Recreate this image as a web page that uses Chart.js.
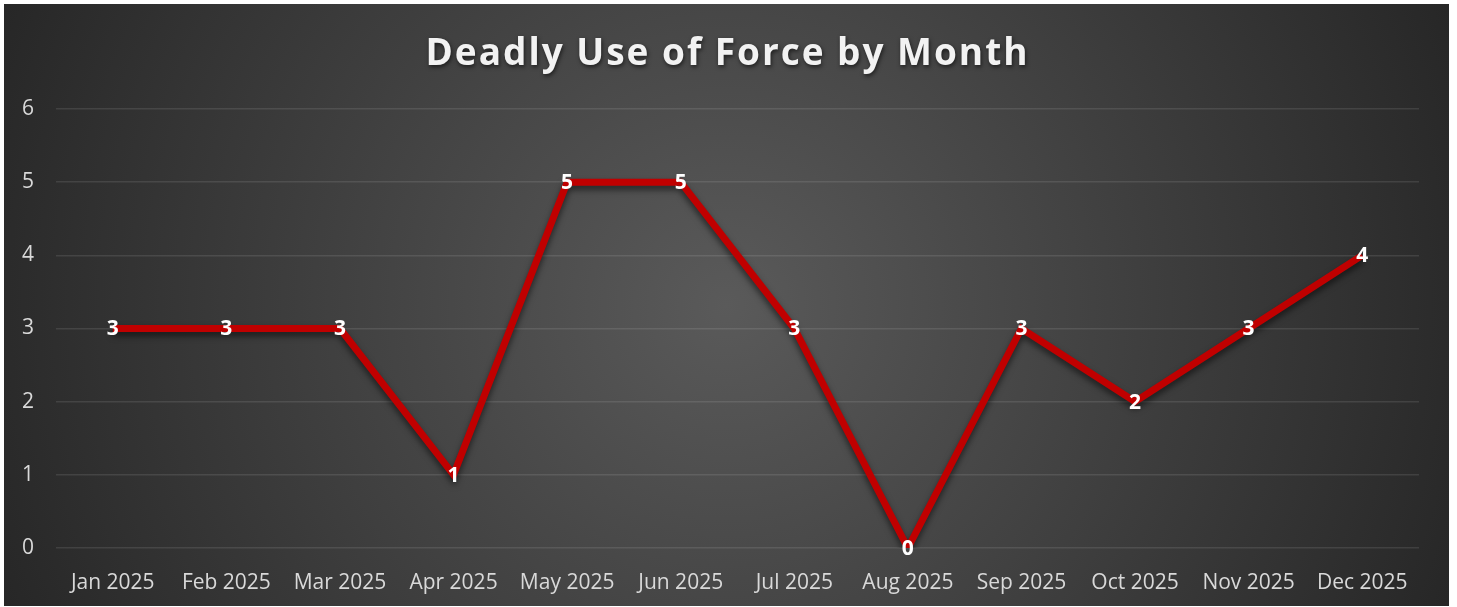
<!DOCTYPE html>
<html>
<head>
<meta charset="utf-8">
<script src="https://cdn.jsdelivr.net/npm/chart.js@4.4.1/dist/chart.umd.min.js"></script>
<style>
  html, body { margin: 0; padding: 0; background: #ffffff; }
  #wrap { position: absolute; left: 4px; top: 4px; width: 1445px; height: 602px; }
</style>
</head>
<body>
<div id="wrap"><canvas id="forceChart"></canvas></div>
<script>
// === DATA ===
const months = ["Jan 2025", "Feb 2025", "Mar 2025", "Apr 2025", "May 2025", "Jun 2025",
                "Jul 2025", "Aug 2025", "Sep 2025", "Oct 2025", "Nov 2025", "Dec 2025"];
const incidents = [3, 3, 3, 1, 5, 5, 3, 0, 3, 2, 3, 4];
const yTicks = [0, 1, 2, 3, 4, 5, 6];
const chartTitle = "Deadly Use of Force by Month";

// === BACKGROUND (radial grey) ===
const bgPlugin = {
  id: "bg",
  beforeDraw(chart) {
    const { ctx, width, height } = chart;
    const g = ctx.createRadialGradient(width / 2, height / 2, 0, width / 2, height / 2, width * 0.55);
    g.addColorStop(0, "#5a5a5a");
    g.addColorStop(1, "#262626");
    ctx.save();
    ctx.fillStyle = g;
    ctx.fillRect(0, 0, width, height);
    ctx.restore();
  },
};

// === TITLE with letter spacing + shadow ===
const titlePlugin = {
  id: "fancyTitle",
  afterDraw(chart) {
    const { ctx, width } = chart;
    ctx.save();
    ctx.font = "bold 37px 'Open Sans'";
    ctx.letterSpacing = "0px";
    const w = ctx.measureText(chartTitle).width;
    const spacing = Math.max(0, (602 - w) / (chartTitle.length - 1));
    ctx.letterSpacing = spacing + "px";
    ctx.fillStyle = "#f2f2f2";
    ctx.textAlign = "center";
    ctx.textBaseline = "middle";
    ctx.shadowColor = "rgba(0,0,0,0.6)";
    ctx.shadowBlur = 4;
    ctx.shadowOffsetX = 1;
    ctx.shadowOffsetY = 2;
    ctx.fillText(chartTitle, width / 2 + spacing / 2, 50);
    ctx.restore();
  },
};

// === LINE SHADOW ===
const shadowPlugin = {
  id: "lineShadow",
  beforeDatasetDraw(chart) {
    const ctx = chart.ctx;
    ctx.save();
    ctx.shadowColor = "rgba(0,0,0,0.55)";
    ctx.shadowBlur = 6;
    ctx.shadowOffsetY = 4;
  },
  afterDatasetDraw(chart) {
    chart.ctx.restore();
  },
};

// === DATA LABELS ===
const labelPlugin = {
  id: "pointLabels",
  afterDatasetsDraw(chart) {
    const { ctx } = chart;
    const meta = chart.getDatasetMeta(0);
    ctx.save();
    ctx.font = "bold 21px 'Open Sans'";
    ctx.fillStyle = "#ffffff";
    ctx.textAlign = "center";
    ctx.textBaseline = "middle";
    meta.data.forEach((pt, i) => {
      ctx.fillText(String(incidents[i]), pt.x, pt.y + 1);
    });
    ctx.restore();
  },
};

const ctx = document.getElementById("forceChart").getContext("2d");

new Chart(ctx, {
  type: "line",
  data: {
    labels: months,
    datasets: [
      {
        label: "Deadly Use of Force",
        data: incidents,
        borderColor: "#c00000",
        borderWidth: 7,
        pointRadius: 0,
        tension: 0,
        fill: false,
      },
    ],
  },
  options: {
    responsive: true,
    maintainAspectRatio: false,
    animation: false,
    layout: { padding: { top: 105, right: 30, left: 0, bottom: 0 } },
    plugins: {
      legend: { display: false },
      tooltip: { enabled: false },
      title: { display: false },
    },
    scales: {
      y: {
        min: 0,
        max: 6,
        afterFit: (s) => { s.width = 52; },
        afterBuildTicks: (s) => { s.ticks = yTicks.map((v) => ({ value: v })); },
        border: { display: false },
        grid: { color: "rgba(255,255,255,0.1)", lineWidth: 1.5, drawTicks: false },
        ticks: { color: "#d9d9d9", padding: 22, font: { family: "'Open Sans'", size: 21 } },
      },
      x: {
        offset: true,
        afterFit: (s) => { s.height = 58; },
        border: { display: false },
        grid: { display: false },
        ticks: { color: "#d9d9d9", padding: 14, maxRotation: 0, font: { family: "'Open Sans'", size: 21 } },
      },
    },
  },
  plugins: [bgPlugin, shadowPlugin, labelPlugin, titlePlugin],
});
</script>
</body>
</html>
